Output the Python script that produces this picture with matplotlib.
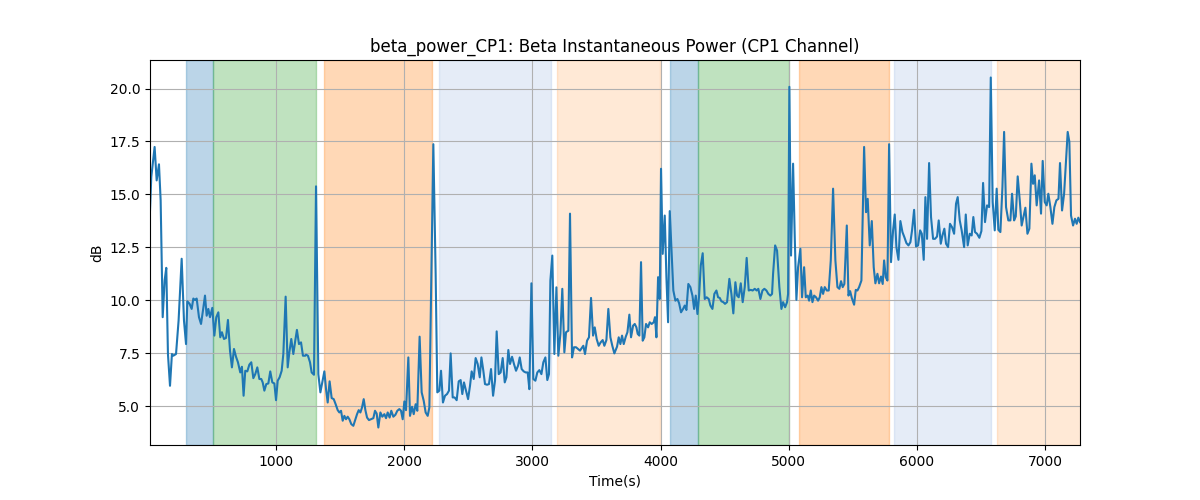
import matplotlib
matplotlib.use("Agg")
import matplotlib.pyplot as plt
import numpy as np

# ---- data ----
time_s = [
    17, 27, 53, 69, 87, 100, 116, 131, 144, 157, 173, 188, 199, 220, 240, 264, 282, 298, 308, 326,
    342, 355, 368, 381, 399, 415, 430, 446, 459, 472, 485, 503, 519, 534, 550, 565, 578, 594, 610, 625,
    641, 656, 672, 688, 703, 721, 734, 747, 760, 776, 792, 807, 823, 838, 854, 870, 885, 896, 909, 924,
    940, 955, 971, 987, 1000, 1013, 1028, 1044, 1057, 1075, 1091, 1104, 1119, 1135, 1148, 1163, 1179, 1195, 1210, 1228,
    1234, 1249, 1265, 1278, 1296, 1312, 1330, 1346, 1361, 1377, 1390, 1403, 1418, 1434, 1450, 1465, 1481, 1494, 1507, 1520,
    1533, 1546, 1559, 1572, 1587, 1603, 1616, 1632, 1645, 1658, 1671, 1684, 1697, 1710, 1725, 1741, 1759, 1772, 1785, 1798,
    1814, 1829, 1845, 1858, 1871, 1886, 1899, 1915, 1931, 1946, 1962, 1975, 1988, 2001, 2014, 2032, 2045, 2061, 2074, 2089,
    2102, 2120, 2136, 2152, 2167, 2183, 2196, 2227, 2245, 2258, 2274, 2287, 2302, 2318, 2334, 2349, 2362, 2378, 2393, 2409, 2425,
    2440, 2453, 2466, 2482, 2498, 2513, 2526, 2542, 2557, 2573, 2589, 2602, 2617, 2630, 2646, 2661, 2677, 2693, 2708, 2721,
    2737, 2752, 2768, 2784, 2797, 2812, 2825, 2841, 2856, 2872, 2888, 2901, 2916, 2932, 2947, 2963, 2976, 2992, 3007, 3023,
    3038, 3054, 3070, 3085, 3101, 3116, 3129, 3140, 3155, 3171, 3187, 3202, 3218, 3233, 3249, 3262, 3280, 3293, 3309, 3324,
    3340, 3356, 3371, 3384, 3397, 3410, 3426, 3441, 3457, 3473, 3486, 3501, 3517, 3532, 3548, 3561, 3577, 3592, 3608, 3623, 3639,
    3660, 3673, 3686, 3699, 3712, 3728, 3741, 3756, 3769, 3785, 3798, 3811, 3821, 3834, 3847, 3860, 3873, 3886, 3902, 3915,
    3930, 3946, 3956, 3967, 3980, 3993, 4003, 4016, 4032, 4045, 4058, 4071, 4084, 4099, 4115, 4131, 4144, 4159, 4175, 4188,
    4201, 4216, 4232, 4248, 4261, 4274, 4287, 4300, 4313, 4328, 4344, 4359, 4375, 4388, 4404, 4419, 4435, 4448, 4461, 4474,
    4489, 4502, 4518, 4536, 4552, 4567, 4583, 4596, 4609, 4625, 4640, 4656, 4671, 4687, 4703, 4718, 4734, 4749, 4762, 4778,
    4794, 4809, 4825, 4840, 4856, 4869,
    4877, 4893, 4908, 4926, 4942, 4955, 4971, 4986, 4994, 5004, 5017, 5033, 5046, 5059, 5072, 5090, 5103, 5119, 5132, 5147,
    5158, 5171, 5184, 5197, 5212, 5228, 5241, 5254, 5267, 5280, 5296, 5311, 5327, 5345, 5363, 5379, 5394, 5407, 5420, 5433,
    5452, 5465, 5478, 5491, 5509, 5522, 5535, 5548, 5566, 5587, 5602, 5615, 5631, 5647, 5662, 5675, 5691, 5704, 5719, 5732,
    5743, 5756, 5769, 5782, 5797, 5813, 5826, 5839, 5855, 5870, 5886, 5901, 5917, 5933, 5948, 5961, 5977, 5992, 6008, 6024,
    6037, 6052,
    6065, 6078, 6094, 6109, 6125, 6140, 6156, 6169, 6185, 6198, 6213, 6226, 6242, 6257, 6273, 6289, 6304, 6317, 6333, 6348,
    6367, 6380, 6395, 6411, 6426, 6439, 6452, 6468, 6486, 6502, 6515, 6530, 6546, 6562, 6575, 6590, 6606, 6621, 6634, 6650,
    6666, 6679, 6694, 6712, 6728, 6741, 6757, 6770, 6785, 6801, 6816, 6832, 6845, 6861, 6876, 6892, 6905, 6918, 6933, 6952,
    6967, 6980, 6996, 7011, 7024, 7040, 7056, 7071, 7087, 7103, 7115, 7131, 7147, 7162, 7175, 7188, 7201, 7217, 7232, 7245,
    7258, 7271,
]

power_db = [
    14.24, 15.82, 17.24, 15.66, 16.42, 14.72, 9.2, 10.93, 11.53, 7.46, 5.96, 7.46, 7.38, 7.46, 9.04, 11.96, 9.04, 7.93, 9.95, 9.83,
    9.59, 10.08, 10.01, 10.08, 9.2, 8.88, 9.51, 10.22, 9.27, 9.59, 9.2, 9.64, 8.33, 9.2, 9.43, 8.25, 8.49, 8.17, 8.22, 9.07,
    7.62, 6.83, 7.70, 7.33, 7.07, 6.59, 6.86, 5.49, 6.67, 6.64, 6.96, 7.07, 6.32, 6.51, 6.83, 6.28, 6.28, 6.12, 5.73, 6.04,
    6.07, 6.64, 6.12, 6.07, 5.28, 6.2, 6.36, 6.67, 7.46, 10.17, 6.83, 7.54, 8.17, 7.46, 8.01, 8.6, 7.93, 8.01, 7.38, 7.38,
    7.43, 7.38, 7.07, 6.59, 6.48, 15.38, 6.51, 5.65, 6.12, 6.64, 5.8, 5.17, 6.17, 5.38, 5.33, 5.09, 4.81, 4.70, 4.78, 4.31,
    4.54, 4.38, 4.5, 4.38, 4.15, 4.07, 4.31, 4.62, 4.81, 4.70, 4.94, 5.33, 4.81, 4.46, 4.34, 4.38, 4.43, 4.78, 4.65, 3.99,
    4.70, 4.5, 4.62, 4.43, 4.70, 4.46, 4.78, 4.5, 4.59, 4.78, 4.86, 4.78, 4.38, 5.22, 4.81, 7.3, 4.54, 4.97, 4.62, 5.09,
    4.78, 8.28, 5.65, 5.25, 4.70, 4.54, 4.94, 17.37, 11.25, 5.65, 5.73, 6.67, 5.17, 5.49, 5.57, 5.73, 7.49, 5.41, 5.41, 5.28, 6.17,
    6.23, 5.57, 6.12, 5.73, 5.33, 5.96, 6.64, 6.28, 7.27, 6.99, 6.36, 7.30, 6.67, 6.04, 6.01, 6.04, 6.75, 5.49, 6.2, 8.53,
    6.51, 6.59, 7.27, 6.12, 6.36, 7.65, 6.99, 7.33, 6.99, 6.67, 6.91, 7.30, 6.75, 6.64, 6.59, 6.59, 5.80, 10.8, 6.28, 6.2,
    6.59, 6.70, 6.51, 7.07, 7.30, 6.23, 6.51, 10.93, 12.11, 7.46, 10.61, 7.38, 8.41, 10.54, 7.54, 8.49, 8.56, 14.09, 7.30, 7.78,
    7.78, 7.70, 7.62, 7.74, 7.85, 7.46, 8.09, 8.25, 10.11, 8.33, 8.72, 8.17, 7.85, 8.01, 8.12, 7.85, 8.12, 9.59, 8.25, 7.85, 7.49,
    7.81, 8.25, 7.93, 8.33, 7.93, 8.28, 8.49, 9.32, 8.25, 8.8, 8.88, 8.72, 8.41, 8.33, 11.8, 8.09, 8.25, 8.88, 8.72, 8.96,
    8.88, 8.96, 9.2, 8.25, 11.09, 10.06, 16.21, 12.19, 14.0, 11.09, 8.96, 14.21, 12.51, 10.46, 9.98, 10.06, 9.86, 9.43, 9.59, 9.75,
    9.54, 10.77, 10.62, 10.22, 9.59, 10.22, 9.35, 10.22, 11.64, 12.22, 10.06, 10.14, 10.06, 9.75, 9.59, 10.30, 10.46, 10.14, 10.11, 9.95,
    9.91, 9.83, 9.91, 11.01, 10.30, 9.38, 10.85, 10.22, 10.14, 10.80, 9.91, 10.62, 12.0, 10.46, 10.49, 10.46, 10.54, 10.46, 10.54, 10.06,
    10.46, 10.54, 10.46, 10.30, 10.22, 10.30,
    11.25, 12.59, 12.35, 10.62, 9.59, 9.91, 9.67, 9.91, 10.30, 20.08, 12.11, 16.45, 12.98, 10.02, 11.56, 12.43, 10.14, 11.56, 10.14, 10.22,
    9.98, 10.46, 9.91, 10.22, 10.14, 9.98, 10.14, 10.62, 10.30, 10.62, 10.46, 10.46, 11.88, 15.27, 11.88, 10.62, 10.54, 10.90, 10.62, 10.77,
    13.53, 10.22, 10.43, 10.11, 9.79, 10.49, 10.46, 10.62, 10.93, 17.24, 14.16, 14.79, 12.59, 13.74, 11.56, 10.80, 11.25, 10.80, 11.12, 10.77,
    11.88, 11.09, 10.93, 17.37, 11.80, 13.30, 14.05, 12.51, 11.91, 13.74, 13.22, 12.98, 12.70, 12.59, 12.74, 13.30, 14.27, 12.54, 12.59, 13.30,
    13.14, 11.91,
    14.87, 12.90, 16.48, 13.93, 12.90, 12.90, 13.01, 13.77, 12.67, 13.06, 13.38, 12.67, 12.51, 13.61, 13.45, 13.14, 14.56, 14.87, 13.77, 13.30,
    12.51, 14.05, 12.59, 13.14, 13.06, 13.93, 13.22, 13.14, 12.95, 13.27, 15.54, 13.69, 14.48, 14.40, 20.52, 14.64, 13.30, 15.27, 13.33, 13.22,
    15.35, 17.95, 14.40, 13.77, 13.77, 15.03, 13.77, 13.96, 15.85, 14.72, 13.53, 14.00, 14.37, 13.14, 13.38, 16.45, 15.50, 15.90, 14.48, 15.66,
    14.09, 16.58, 14.64, 14.48, 15.03, 14.40, 13.61, 14.40, 14.72, 14.79, 16.48, 14.24, 15.03, 16.61, 17.95, 17.48, 14.00, 13.53, 13.85, 13.61,
    13.90, 13.69,
]

# shaded phases (start, end) in seconds
phase_start = [300, 508, 1377, 2274, 3194, 4076, 4289, 5082, 5823, 6627]
phase_end = [508, 1312, 2217, 3145, 3993, 4289, 5002, 5782, 6577, 7280]
phase_kind = ["A", "B", "C", "D", "E", "A", "B", "C", "D", "E"]

# ---- styling ----
kind_style = {
    "A": dict(color="tab:blue", alpha=0.3),
    "B": dict(color="tab:green", alpha=0.3),
    "C": dict(color="tab:orange", alpha=0.3),
    "D": dict(color="#6f9bd8", alpha=0.18),
    "E": dict(color="tab:orange", alpha=0.17),
}

fig, ax = plt.subplots(figsize=(12, 5), dpi=100)
for s, e, k in zip(phase_start, phase_end, phase_kind):
    ax.axvspan(s, e, **kind_style[k])

ax.plot(time_s, power_db, color="tab:blue", lw=1.5)
ax.set_xlim(time_s[0], time_s[-1])
ax.grid(True)
ax.set_title("beta_power_CP1: Beta Instantaneous Power (CP1 Channel)")
ax.set_xlabel("Time(s)")
ax.set_ylabel("dB")

fig.savefig("out.png", dpi=100)
